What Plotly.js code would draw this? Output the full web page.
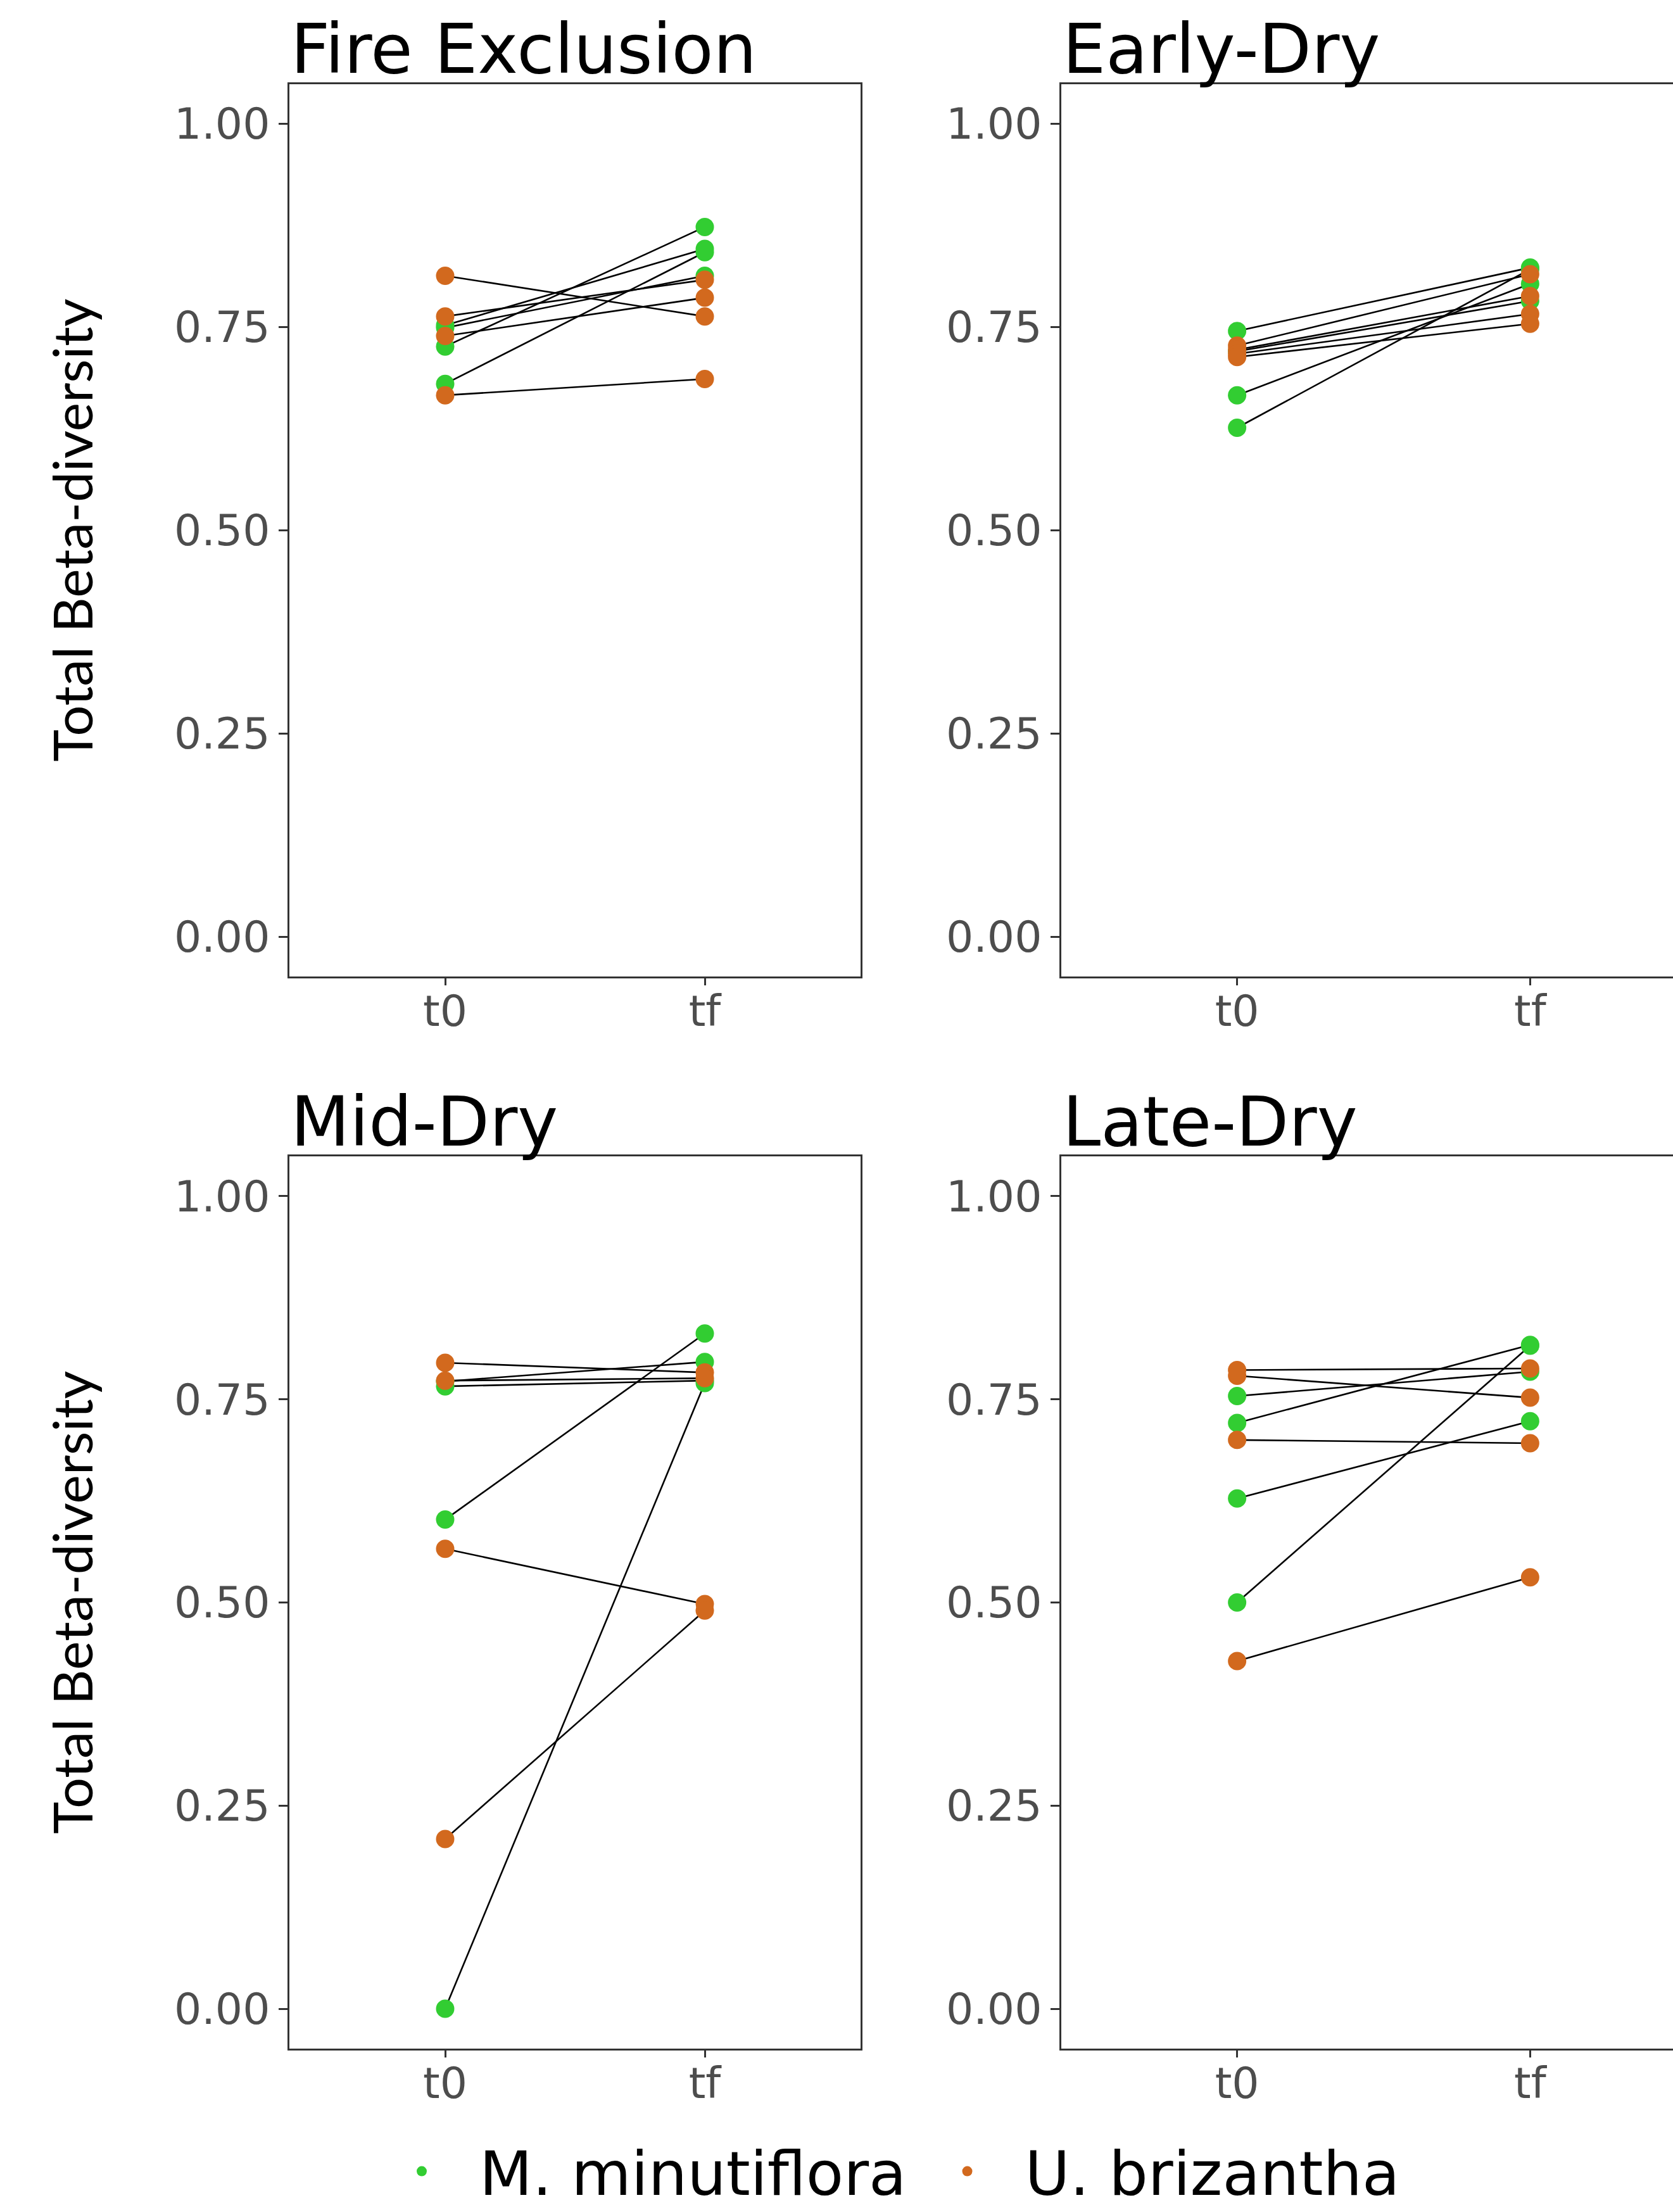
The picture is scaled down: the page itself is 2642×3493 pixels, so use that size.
<!DOCTYPE html>
<html>
<head>
<meta charset="utf-8">
<script src="https://cdn.plot.ly/plotly-3.0.1.min.js"></script>
<style>
html, body { margin: 0; padding: 0; overflow: hidden; background: #ffffff; }
#chart { width: 2700px; height: 3493px; }
</style>
</head>
<body>
<div id="chart"></div>
<script>
// ---------- data ----------
const timeCategories = ['t0', 'tf'];
const panelTitles = ['Fire Exclusion', 'Early-Dry', 'Mid-Dry', 'Late-Dry'];
const speciesNames = ['M. minutiflora', 'U. brizantha'];
const yTickValues = [0, 0.25, 0.5, 0.75, 1];

// Fire Exclusion (paired plots: t0 -> tf)
const fireGreenT0 = [0.752, 0.749, 0.726, 0.680];
const fireGreenTf = [0.846, 0.813, 0.873, 0.842];
const fireOrangeT0 = [0.813, 0.763, 0.739, 0.666];
const fireOrangeTf = [0.763, 0.808, 0.786, 0.686];

// Early-Dry
const earlyGreenT0 = [0.745, 0.720, 0.666, 0.626];
const earlyGreenTf = [0.823, 0.782, 0.803, 0.821];
const earlyOrangeT0 = [0.727, 0.722, 0.717, 0.713];
const earlyOrangeTf = [0.815, 0.788, 0.766, 0.754];

// Mid-Dry
const midGreenT0 = [0.772, 0.766, 0.602, 0.000];
const midGreenTf = [0.796, 0.773, 0.831, 0.770];
const midOrangeT0 = [0.795, 0.773, 0.566, 0.209];
const midOrangeTf = [0.783, 0.776, 0.498, 0.490];

// Late-Dry
const lateGreenT0 = [0.754, 0.721, 0.628, 0.500];
const lateGreenTf = [0.784, 0.817, 0.723, 0.816];
const lateOrangeT0 = [0.786, 0.779, 0.700, 0.428];
const lateOrangeTf = [0.788, 0.752, 0.696, 0.531];

// ---------- styling ----------
const greenColor = '#32CD32';
const orangeColor = '#D2691E';
const W = 2700, H = 3493;

const panelData = [
  {green: [fireGreenT0, fireGreenTf], orange: [fireOrangeT0, fireOrangeTf]},
  {green: [earlyGreenT0, earlyGreenTf], orange: [earlyOrangeT0, earlyOrangeTf]},
  {green: [midGreenT0, midGreenTf], orange: [midOrangeT0, midOrangeTf]},
  {green: [lateGreenT0, lateGreenTf], orange: [lateOrangeT0, lateOrangeTf]}
];

// panel pixel boxes -> paper domains
const colPx = [[457, 1359], [1676, 2694]];
const rowPx = [[132.5, 1542], [1826, 3235]];
function xdom(c) { return [colPx[c][0] / W, colPx[c][1] / W]; }
function ydom(r) { return [(H - rowPx[r][1]) / H, (H - rowPx[r][0]) / H]; }

const traces = [];
const annotations = [];
const layout = {
  width: W, height: H,
  margin: {l: 0, r: 0, t: 0, b: 0, autoexpand: false},
  paper_bgcolor: '#ffffff', plot_bgcolor: '#ffffff',
  showlegend: true,
  legend: {
    orientation: 'h', x: 575 / W, y: (H - 3429) / H,
    xanchor: 'left', yanchor: 'middle',
    font: {family: 'DejaVu Sans', size: 97, color: '#000000'},
    bgcolor: 'rgba(0,0,0,0)', itemwidth: 172
  },
  annotations: annotations
};

panelData.forEach((pd, i) => {
  const n = i + 1;
  const xa = 'x' + (n === 1 ? '' : n);
  const ya = 'y' + (n === 1 ? '' : n);
  const col = i % 2, row = Math.floor(i / 2);

  // connecting lines
  const lx = [], ly = [];
  [pd.green, pd.orange].forEach(pair => {
    pair[0].forEach((v, k) => {
      lx.push(timeCategories[0], timeCategories[1], null);
      ly.push(v, pair[1][k], null);
    });
  });
  traces.push({
    type: 'scatter', mode: 'lines', x: lx, y: ly, xaxis: xa, yaxis: ya,
    line: {color: '#000000', width: 2.6}, showlegend: false, hoverinfo: 'skip',
    connectgaps: false
  });

  // points
  [['green', greenColor, 0], ['orange', orangeColor, 1]].forEach(([key, color, si]) => {
    const pair = pd[key];
    const px = pair[0].map(() => timeCategories[0]).concat(pair[1].map(() => timeCategories[1]));
    const py = pair[0].concat(pair[1]);
    traces.push({
      type: 'scatter', mode: 'markers', x: px, y: py, xaxis: xa, yaxis: ya,
      marker: {color: color, size: 29, line: {width: 0}},
      name: speciesNames[si], legendgroup: speciesNames[si],
      showlegend: i === 0
    });
  });

  const axKeyX = 'xaxis' + (n === 1 ? '' : n);
  const axKeyY = 'yaxis' + (n === 1 ? '' : n);
  layout[axKeyX] = {
    domain: xdom(col), anchor: ya,
    type: 'category', categoryorder: 'array', categoryarray: timeCategories,
    range: [-0.6, 1.6],
    showgrid: false, zeroline: false,
    showline: true, mirror: true, linecolor: '#333333', linewidth: 3,
    ticks: 'outside', ticklen: 11, tickwidth: 3, tickcolor: '#333333',
    ticklabelstandoff: -18,
    tickfont: {family: 'DejaVu Sans', size: 68, color: '#4D4D4D'},
    fixedrange: true
  };
  layout[axKeyY] = {
    domain: ydom(row), anchor: xa,
    range: [-0.049, 1.049],
    tickmode: 'array', tickvals: yTickValues, tickformat: '.2f',
    showgrid: false, zeroline: false,
    showline: true, mirror: true, linecolor: '#333333', linewidth: 3,
    ticks: 'outside', ticklen: 14, tickwidth: 3, tickcolor: '#333333',
    tickfont: {family: 'DejaVu Sans', size: 68, color: '#4D4D4D'},
    fixedrange: true
  };
  if (col === 0) {
    layout[axKeyY].title = {
      text: 'Total Beta-diversity',
      font: {family: 'Lato', size: 86, color: '#000000'},
      standoff: 100
    };
  }

  annotations.push({
    text: panelTitles[i], xref: 'paper', yref: 'paper',
    x: xdom(col)[0], y: ydom(row)[1], xanchor: 'left', yanchor: 'bottom',
    yshift: -10,
    showarrow: false, font: {family: 'DejaVu Sans', size: 108, color: '#000000'}
  });
});

Plotly.newPlot('chart', traces, layout, {displayModeBar: false, staticPlot: true});
</script>
</body>
</html>
